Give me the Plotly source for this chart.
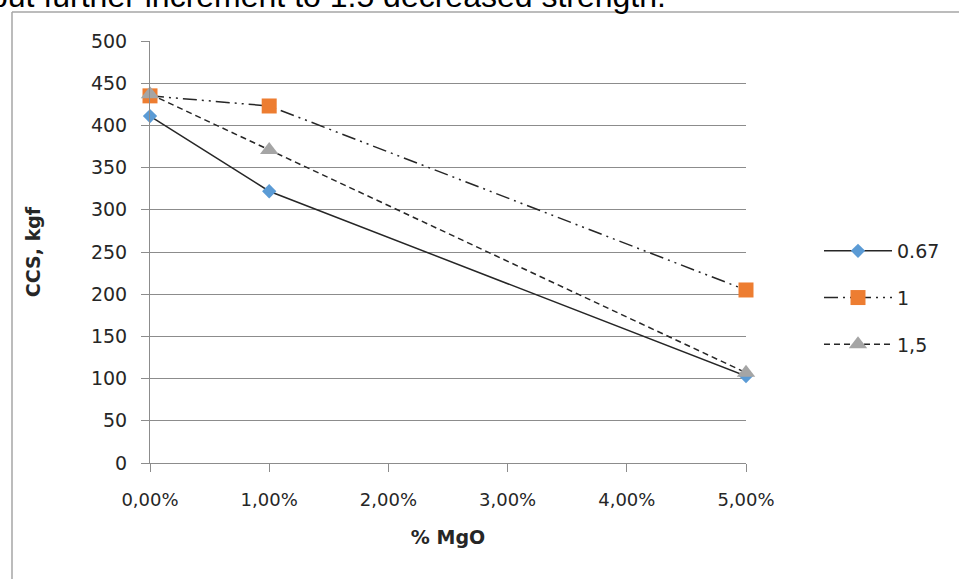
import plotly.graph_objects as go

# Data
mgo = [0.0, 0.01, 0.05]
ccs_067 = [411, 322, 103]
ccs_1 = [435, 423, 205]
ccs_15 = [437, 371, 107]
series_names = ["0.67", "1", "1,5"]
x_ticks = [0.0, 0.01, 0.02, 0.03, 0.04, 0.05]
y_ticks = [0, 50, 100, 150, 200, 250, 300, 350, 400, 450, 500]

FONT = "DejaVu Sans"
TXT = "#262626"
LINE = "#262626"

W, H = 959, 579
L, R, T, B = 150, 213, 41, 116
PW, PH = W - L - R, H - T - B

def px_x(px):
    return (px - L) / PW

def px_y(py):
    return (H - B - py) / PH

fig = go.Figure()
fig.add_trace(go.Scatter(
    x=mgo, y=ccs_067, name=series_names[0], mode="lines+markers",
    line=dict(color=LINE, width=1.5),
    marker=dict(symbol="diamond", size=11, color="#5B9BD5", line=dict(width=0)),
    cliponaxis=False, legendgroup="a"))
fig.add_trace(go.Scatter(
    x=mgo, y=ccs_1, name=series_names[1], mode="lines+markers",
    line=dict(color=LINE, width=1.5, dash="14px,5px,2px,5px,2px,5px"),
    marker=dict(symbol="square", size=15, color="#ED7D31", line=dict(width=0)),
    cliponaxis=False, legendgroup="b"))
fig.add_trace(go.Scatter(
    x=mgo, y=ccs_15, name=series_names[2], mode="lines+markers",
    line=dict(color=LINE, width=1.5, dash="6px,4px"),
    marker=dict(symbol="triangle-up", size=16, color="#A5A5A5", line=dict(width=0)),
    cliponaxis=False, legendgroup="c"))

fig.update_layout(
    width=W, height=H,
    margin=dict(l=L, r=R, t=T, b=B, autoexpand=False),
    paper_bgcolor="white", plot_bgcolor="white",
    separators=", ",
    font=dict(family=FONT, size=19, color=TXT),
    showlegend=True,
    legend=dict(
        x=px_x(819), y=px_y(232), xanchor="left", yanchor="top",
        itemwidth=68, tracegroupgap=19,
        font=dict(family=FONT, size=19, color=TXT),
        bgcolor="rgba(0,0,0,0)",
    ),
    xaxis=dict(
        range=[0, 0.05], tickvals=x_ticks, tickformat=".2%",
        showgrid=False, zeroline=False,
        showline=True, linecolor="#8c8c8c", linewidth=1,
        ticks="outside", ticklen=8, tickcolor="#8c8c8c", tickwidth=1,
        ticklabelstandoff=12,
        tickfont=dict(family=FONT, size=18, color=TXT),
        title=dict(text="<b>% MgO</b>", font=dict(family=FONT, size=19, color=TXT), standoff=22),
    ),
    yaxis=dict(
        range=[0, 500], tickvals=y_ticks,
        showgrid=True, gridcolor="#8c8c8c", gridwidth=1, zeroline=False,
        showline=True, linecolor="#8c8c8c", linewidth=1,
        ticks="outside", ticklen=8, tickcolor="#8c8c8c", tickwidth=1,
        ticklabelstandoff=10,
        tickfont=dict(family=FONT, size=19, color=TXT),
        title=dict(text="<b>CCS, kgf</b>", font=dict(family=FONT, size=19, color=TXT), standoff=45),
    ),
    shapes=[
        dict(type="line", xref="paper", yref="paper",
             x0=px_x(12), x1=px_x(1000), y0=px_y(12), y1=px_y(12),
             line=dict(color="#a6a6a6", width=1.5)),
        dict(type="line", xref="paper", yref="paper",
             x0=px_x(12), x1=px_x(12), y0=px_y(12), y1=px_y(620),
             line=dict(color="#a6a6a6", width=1.5)),
    ],
    annotations=[
        dict(text="but further increment to 1.5 decreased strength.",
             xref="paper", yref="paper", x=px_x(668), y=px_y(-4),
             xanchor="right", yanchor="middle", showarrow=False,
             font=dict(family="Liberation Sans", size=32, color="black")),
    ],
)

fig.write_html("out.html")
